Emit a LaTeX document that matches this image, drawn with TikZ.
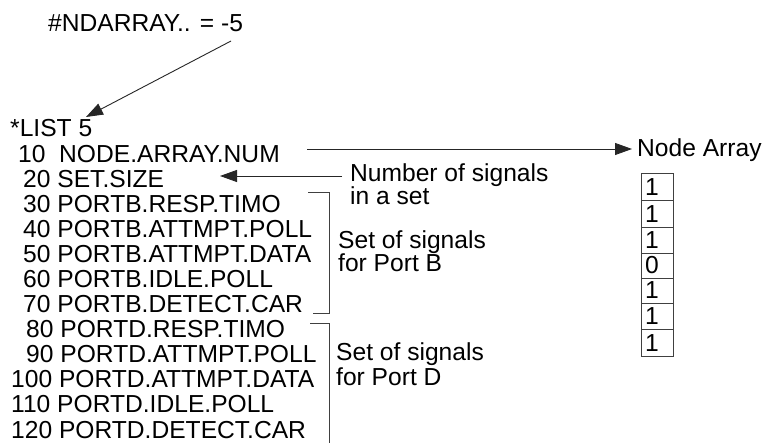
\documentclass[tikz,border=0pt]{standalone}
\usepackage{fontspec}
\setmainfont{Liberation Sans}
\usetikzlibrary{arrows.meta}
\begin{document}
\begin{tikzpicture}[x=1pt,y=-1pt,
  txt/.style={inner sep=0pt,anchor=base west,font=\fontsize{24.6}{25}\selectfont},
  conn/.style={line width=0.9pt,draw=black!85},
  arr/.style={conn,-{Triangle[length=17pt,width=12pt]}},
  brk/.style={line width=0.9pt,draw=black!75},
  cell/.style={line width=0.9pt,draw=black!75}]
\useasboundingbox[fill=white] (0,0) rectangle (763,443);

% header
\node[txt] (hdr) at (48,32) {\#NDARRAY.. = -5};
\coordinate (hdrT) at (231,41);
\coordinate (listH) at (86,117);
\draw[arr] (hdrT) -- (listH);

% listing
\node[txt] (l0) at (10,137) {*LIST 5};
\node[txt] (l1) at (18,162.1) {10~~NODE.ARRAY.NUM};
\node[txt] (l2) at (23,187.2) {20 SET.SIZE};
\node[txt] (l3) at (23,212.2) {30 PORTB.RESP.TIMO};
\node[txt] (l4) at (23,237.3) {40 PORTB.ATTMPT.POLL};
\node[txt] (l5) at (23,262.4) {50 PORTB.ATTMPT.DATA};
\node[txt] (l6) at (23,287.5) {60 PORTB.IDLE.POLL};
\node[txt] (l7) at (23,312.6) {70 PORTB.DETECT.CAR};
\node[txt] (l8) at (26,337.6) {80 PORTD.RESP.TIMO};
\node[txt] (l9) at (26,362.7) {90 PORTD.ATTMPT.POLL};
\node[txt] (l10) at (11,387.8) {100 PORTD.ATTMPT.DATA};
\node[txt] (l11) at (11,412.9) {110 PORTD.IDLE.POLL};
\node[txt] (l12) at (11,438) {120 PORTD.DETECT.CAR};

% brackets
\draw[brk] (308,192) -- (329,192) -- (329,313) -- (313,313);
\draw[brk] (310,323) -- (329,323) -- (329,443);

% labels
\node[txt] (numA) at (350,182) {Number of signals};
\node[txt] (numB) at (350,205) {in a set};
\node[txt] (pbA) at (338,249) {Set of signals};
\node[txt] (pbB) at (338,272) {for Port B};
\node[txt] (pdA) at (336,361) {Set of signals};
\node[txt] (pdB) at (336,385) {for Port D};

\coordinate (numT) at (342,176);
\coordinate (sizeH) at (220,176);
\draw[arr] (numT) -- (sizeH);

% node array
\node[txt] (na) at (637,157) {Node Array};
\coordinate (nodeT) at (307,149);
\coordinate (naH) at (632,149);
\draw[arr] (nodeT) -- (naH);

\foreach \t/\b/\v [count=\i] in {173/200/1,200/227/1,227/253/1,253/278/0,278/303/1,303/329/1,329/356/1}{
  \draw[cell] (641,\t) rectangle (673,\b);
  \node[txt] (c\i) at (645,\b-4) {\v};
}
\end{tikzpicture}
\end{document}
